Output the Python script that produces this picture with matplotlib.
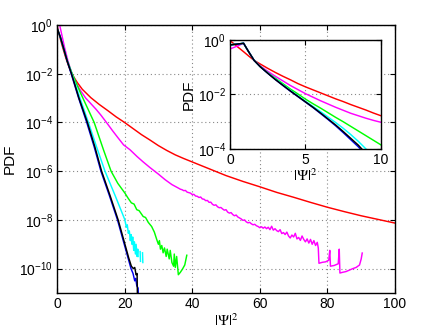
import numpy as np
import matplotlib
matplotlib.use("Agg")
import matplotlib.pyplot as plt
from matplotlib.ticker import FixedLocator, NullLocator, LogFormatterSciNotation

plt.rcParams['font.family'] = ['Liberation Sans', 'DejaVu Sans']
plt.rcParams['mathtext.fontset'] = 'custom'
plt.rcParams['mathtext.rm'] = 'Liberation Sans'
plt.rcParams['mathtext.it'] = 'Liberation Sans:italic'

# main plot data, x = |Psi|^2, values are log10(PDF)
red_x = [0, 0.5, 1, 1.5, 2, 2.5, 3, 3.5, 4, 5, 6, 7.5, 10, 12.5, 15, 17.5, 20, 22.5, 25,
         27.5, 30, 32.5, 35, 37.5, 40, 45, 50, 55, 60, 65, 70, 75, 80, 85, 90, 95, 100]
red_lg = [-0.02, -0.3, -0.57, -0.83, -1.07, -1.3, -1.51, -1.7, -1.87, -2.14, -2.36, -2.64,
          -2.98, -3.26, -3.51, -3.77, -4.0, -4.25, -4.5, -4.72, -4.95, -5.15, -5.33, -5.48,
          -5.62, -5.9, -6.18, -6.42, -6.64, -6.87, -7.07, -7.28, -7.48, -7.66, -7.83, -7.98,
          -8.13]

mag_x = [0.9, 1.5, 2.2, 3.2, 4.4, 5.5, 7, 8.5, 9.9, 11.5, 13, 14.8, 16.5, 18, 19.7, 21.6,
         23.7, 25.5, 27.5, 30, 32, 34,
         36.0, 36.5, 37.0, 37.5, 38.0, 38.5, 39.0, 39.5, 40.0, 40.5, 41.0, 41.5, 42.0, 42.5,
         43.0, 43.5, 44.0, 44.5, 45.0, 45.5, 46.0, 46.5, 47.0, 47.5, 48.0, 48.5, 49.0, 49.5,
         50.0, 50.5, 51.0, 51.5, 52.0, 52.5, 53.0, 53.5, 54.0, 54.5, 55.0, 55.5, 56.0, 56.5,
         57.0, 57.5, 58.0, 58.5, 59.0, 59.5, 60.0, 60.5, 61.0, 61.5, 62.0, 62.5, 63.0, 63.5,
         64.0, 64.5, 65.0, 65.5, 66.0, 66.5, 67.0, 67.5, 68.0, 68.5, 69.0, 69.5, 70.0, 70.5,
         71.0, 71.5, 72.0, 72.5, 73.0, 73.5, 74.0, 74.5, 75.0, 75.5, 76.0, 76.5, 77.0, 77.3,
         77.5, 78.5, 79.5, 80.4, 80.7, 80.9, 82.0, 83.2, 83.5, 83.7, 84.5, 85.5, 86.5, 87.5,
         88.5, 89.5, 90.0, 90.3]
mag_lg = [-0.07, -0.45, -0.9, -1.45, -2.0, -2.35, -2.7, -3.0, -3.21, -3.45, -3.7, -4.03,
          -4.35, -4.62, -4.92, -5.12, -5.4, -5.62, -5.85, -6.12, -6.35, -6.55,
          -6.70, -6.74, -6.76, -6.80, -6.79, -6.86, -6.88, -6.90, -6.96, -6.95, -7.02, -7.03,
          -7.08, -7.06, -7.14, -7.15, -7.21, -7.20, -7.28, -7.27, -7.36, -7.40, -7.38, -7.46,
          -7.50, -7.49, -7.55, -7.60, -7.58, -7.68, -7.72, -7.70, -7.78, -7.83, -7.80, -7.88,
          -7.92, -7.96, -8.02, -8.00, -8.08, -8.12, -8.10, -8.16, -8.20, -8.18, -8.24, -8.27,
          -8.32, -8.28, -8.34, -8.29, -8.36, -8.30, -8.40, -8.26, -8.42, -8.36, -8.44, -8.48,
          -8.40, -8.56, -8.52, -8.60, -8.50, -8.66, -8.74, -8.62, -8.70, -8.55, -8.78, -8.72,
          -8.84, -8.66, -8.80, -8.90, -8.78, -8.95, -8.80, -9.00, -8.85, -9.05, -8.92, -9.15,
          -9.78, -9.74, -9.72, -9.65, -9.25, -9.90, -9.87, -9.80, -9.20, -10.18, -10.15,
          -10.12, -10.06, -10.00, -9.95, -9.85, -9.60, -9.36]

grn_x = [0, 1, 2, 3, 4.5, 7, 9, 11, 13.7, 16.0, 18, 20.1, 21, 22, 22.8, 23.6, 24.3, 25.5,
         26.2, 27, 28, 28.8, 29.5, 30.0, 30.3, 30.6, 31.0, 31.4, 31.8, 32.3, 32.6, 33.2,
         33.5, 34.0, 34.5, 34.7, 35.0, 35.4, 35.9, 36.5, 37.2, 37.8, 38.4]
grn_lg = [-0.12, -0.5, -0.98, -1.45, -2.0, -2.8, -3.4, -4.0, -5.1, -6.0, -6.5, -6.9, -7.1,
          -7.3, -7.35, -7.58, -7.62, -7.86, -7.9, -8.1, -8.27, -8.5, -8.8, -9.0, -8.85,
          -9.2, -9.05, -9.35, -9.15, -9.5, -9.2, -9.6, -9.25, -9.75, -9.9, -9.4, -9.95,
          -9.5, -10.25, -10.15, -10.0, -9.85, -9.45]

cyn_x = [0, 1, 2, 3, 4.4, 6.8, 9.3, 11.7, 14.2, 17.2, 20.1, 20.5, 20.8, 21.1, 21.4, 21.7,
         21.9, 22.2, 22.4, 22.7, 22.9, 23.2, 23.4, 23.7, 23.9, 24.0, np.nan, 24.6, 24.7,
         np.nan, 25.3, 25.4]
cyn_lg = [-0.12, -0.5, -0.98, -1.46, -2.0, -3.0, -4.0, -5.0, -6.0, -7.0, -8.0, -8.3, -8.2,
          -8.55, -8.45, -8.85, -8.6, -9.0, -8.7, -9.25, -8.9, -9.4, -9.0, -9.5, -9.2, -9.5,
          np.nan, -9.3, -9.7, np.nan, -9.35, -9.75]

blu_x = [0, 1, 2, 3, 4.2, 6.4, 8.8, 11.0, 13.0, 15.5, 17.9, 19.9, 20.9, 21.9, 22.5, 23.0,
         23.3, 23.6, 24.0, 24.1]
blu_lg = [-0.12, -0.5, -0.98, -1.47, -2.0, -3.0, -4.0, -5.0, -6.0, -7.0, -8.0, -9.0, -9.5,
          -10.0, -10.2, -10.5, -10.4, -10.7, -10.8, -11.2]

blk_x = [0, 1, 2, 3, 4.3, 6.5, 9, 11.2, 13.2, 15.7, 18.1, 20.1, 21.2, 22.0, 22.6, 23.0,
         23.4, 23.7, 23.8]
blk_lg = [-0.12, -0.5, -0.98, -1.47, -2.0, -3.0, -4.0, -5.0, -6.0, -7.0, -8.0, -9.0, -9.55,
          -9.9, -10.0, -9.95, -10.25, -10.2, -11.2]

# inset data
in_x = [0, 0.5, 0.9, 1.2, 1.6, 2, 2.5, 3, 3.5, 4, 4.5, 5, 5.5, 6, 6.5, 7, 7.5, 8, 8.5, 9,
        9.5, 10]
in_red = [-0.02, -0.25, -0.43, -0.57, -0.75, -0.88, -1.04, -1.19, -1.33, -1.46, -1.6,
          -1.72, -1.83, -1.94, -2.05, -2.16, -2.26, -2.37, -2.47, -2.57, -2.68, -2.78]
in_mag = [-0.33, -0.22, -0.12, -0.4, -0.75, -0.95, -1.15, -1.33, -1.5, -1.67, -1.82, -1.97,
          -2.1, -2.23, -2.35, -2.47, -2.58, -2.69, -2.78, -2.87, -2.95, -3.02]
in_grn = [-0.18, -0.15, -0.12, -0.4, -0.75, -0.97, -1.2, -1.4, -1.6, -1.8, -1.98, -2.17,
          -2.34, -2.5, -2.67, -2.84, -3.0, -3.17, -3.34, -3.51, -3.68, -3.85]
in_cyn_x = [0, 0.5, 0.9, 1.2, 1.6, 2, 2.5, 3, 3.5, 4, 4.5, 5, 5.5, 6, 6.5, 7, 7.5, 8, 8.5,
            9.1]
in_cyn = [-0.18, -0.15, -0.12, -0.4, -0.75, -0.98, -1.21, -1.43, -1.64, -1.85, -2.05, -2.25,
          -2.44, -2.63, -2.83, -3.03, -3.24, -3.47, -3.72, -4.05]
in_blu_x = [0, 0.5, 0.9, 1.2, 1.6, 2, 2.5, 3, 3.5, 4, 4.5, 5, 5.5, 6, 6.5, 7, 7.5, 8, 8.5,
            8.8]
in_blu = [-0.18, -0.15, -0.12, -0.4, -0.75, -0.98, -1.22, -1.45, -1.67, -1.88, -2.08, -2.28,
          -2.48, -2.7, -2.92, -3.15, -3.4, -3.66, -3.92, -4.1]
in_blk_x = [0, 0.5, 0.9, 1.2, 1.6, 2, 2.5, 3, 3.5, 4, 4.5, 5, 5.5, 6, 6.5, 7, 7.5, 8, 8.5,
            8.9]
in_blk = [-0.18, -0.15, -0.12, -0.4, -0.75, -0.98, -1.22, -1.45, -1.66, -1.87, -2.07, -2.27,
          -2.47, -2.68, -2.9, -3.12, -3.36, -3.61, -3.86, -4.1]

main_yticks = [1e-10, 1e-8, 1e-6, 1e-4, 1e-2, 1e0]
inset_yticks = [1e-4, 1e-2, 1e0]


def pw(v):
    return 10.0 ** np.array(v, dtype=float)


def style_axes(ax, fs):
    ax.set_yscale('log')
    ax.yaxis.set_minor_locator(NullLocator())
    ax.yaxis.set_major_formatter(LogFormatterSciNotation())
    ax.tick_params(which='both', direction='in', top=True, right=True, length=3.5,
                   width=0.8, labelsize=fs, pad=3)
    for s in ax.spines.values():
        s.set_linewidth(1.0)
    ax.grid(True, linestyle=(0, (1, 2.5)), color='#888888', linewidth=0.8)


fig = plt.figure(figsize=(4.36, 3.30), dpi=100)
ax = fig.add_axes([0.1307, 0.1121, 0.7753, 0.8121])
style_axes(ax, 10)

lw = 1.05
ax.plot(red_x, pw(red_lg), color='#ff0000', lw=lw)
ax.plot(mag_x, pw(mag_lg), color='#ff00ff', lw=lw)
ax.plot(grn_x, pw(grn_lg), color='#00ff00', lw=lw)
ax.plot(cyn_x, pw(cyn_lg), color='#00ffff', lw=lw)
ax.plot(blu_x, pw(blu_lg), color='#0000ee', lw=lw)
ax.plot(blk_x, pw(blk_lg), color='black', lw=lw)

ax.set_xlim(0, 100)
ax.set_ylim(1e-11, 1)
ax.xaxis.set_major_locator(FixedLocator([0, 20, 40, 60, 80, 100]))
ax.yaxis.set_major_locator(FixedLocator(main_yticks))
ax.yaxis.set_minor_locator(NullLocator())
ax.set_xlabel(r'$|\mathrm{\Psi}|^2$', fontsize=11, math_fontfamily='stix', labelpad=1)
ax.set_ylabel('PDF', fontsize=11, labelpad=2)

# inset
ins = fig.add_axes([0.5275, 0.5485, 0.3463, 0.3303])
ins.set_facecolor('white')
style_axes(ins, 10)
ins.plot(in_x, pw(in_red), color='#ff0000', lw=lw)
ins.plot(in_x, pw(in_mag), color='#ff00ff', lw=lw)
ins.plot(in_x, pw(in_grn), color='#00ff00', lw=lw)
ins.plot(in_cyn_x, pw(in_cyn), color='#00ffff', lw=lw)
ins.plot(in_blu_x, pw(in_blu), color='#0000ee', lw=lw)
ins.plot(in_blk_x, pw(in_blk), color='black', lw=lw)
ins.set_xlim(0, 10)
ins.set_ylim(1e-4, 1)
ins.xaxis.set_major_locator(FixedLocator([0, 5, 10]))
ins.yaxis.set_major_locator(FixedLocator(inset_yticks))
ins.yaxis.set_minor_locator(NullLocator())
ins.set_xlabel(r'$|\mathrm{\Psi}|^2$', fontsize=11, math_fontfamily='stix', labelpad=0)
ins.set_ylabel('PDF', fontsize=11, labelpad=1)

fig.savefig('out.png', dpi=100)
